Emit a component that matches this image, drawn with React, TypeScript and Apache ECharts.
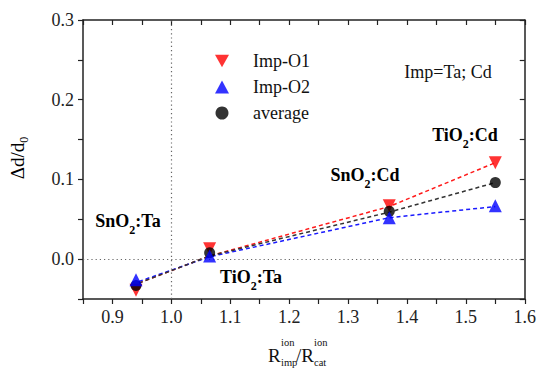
import React, { useEffect, useRef } from 'react';
import * as echarts from 'echarts';

// ---- data ----
const xValues = [0.94, 1.065, 1.37, 1.55];
const impO1 = [-0.039, 0.013, 0.067, 0.121];
const impO2 = [-0.026, 0.004, 0.052, 0.067];
const average = [-0.033, 0.008, 0.06, 0.096];

// dashed guide lines
const lineX = [0.945, 1.065, 1.37, 1.55];
const lineO1 = [-0.03, 0.004, 0.066, 0.121];
const lineO2 = [-0.028, 0.003, 0.052, 0.066];
const lineAvg = [-0.03, 0.004, 0.059, 0.096];

const refX = [1.0];
const refY = [0.0];

const xMin = 0.85;
const xMax = 1.6;
const yMin = -0.05;
const yMax = 0.3;
const tickStep = 0.05;

const SERIF = 'Liberation Serif';

const pairs = (xs: number[], ys: number[]) => xs.map((x, i) => [x, ys[i]]);

const labelFmt = (v: number) => {
  const k = Math.round(v * 100);
  return Math.abs(k) % 10 === 0 ? (k / 100).toFixed(1) : '';
};

export default function App() {
  const ref = useRef<HTMLDivElement>(null);
  useEffect(() => {
    if (!ref.current) return;
    const chart = echarts.init(ref.current, null, { renderer: 'svg' });
    const axisLine = { show: true, onZero: false, lineStyle: { color: '#222', width: 1.5 } };
    const boldRich = {
      b: { fontSize: 18, fontWeight: 'bold', fontFamily: SERIF, color: '#111' },
      s: { fontSize: 12, fontWeight: 'bold', fontFamily: SERIF, color: '#111', padding: [17, 0, 0, 0] },
    };
    const boldLabel = (x: number, y: number, txt: string) => ({
      type: 'text',
      x,
      y,
      style: {
        text: txt,
        rich: boldRich,
        align: 'center',
        verticalAlign: 'middle',
      },
    });
    const plain = (x: number, y: number, txt: string, size: number) => ({
      type: 'text',
      x,
      y,
      style: {
        text: txt,
        fontSize: size,
        fontFamily: SERIF,
        fill: '#111',
        align: 'left',
        verticalAlign: 'middle',
      },
    });
    const dashed = (color: string) => ({ color, width: 1.5, type: [4, 3] as number[] });
    chart.setOption({
      animation: false,
      backgroundColor: '#fff',
      grid: { left: 83, right: 13, top: 20, bottom: 71, containLabel: false },
      legend: {
        data: [
          { name: 'Imp-O1', icon: 'path://M0,0 L10,0 L5,9 Z' },
          { name: 'Imp-O2', icon: 'triangle' },
          { name: 'average', icon: 'circle' },
        ],
        orient: 'vertical',
        left: 210,
        top: 47,
        itemWidth: 14,
        itemHeight: 13,
        itemGap: 8,
        textStyle: { fontSize: 18, fontFamily: SERIF, color: '#111', padding: [0, 0, 0, 19] },
      },
      xAxis: [
        {
          type: 'value',
          position: 'bottom',
          min: xMin,
          max: xMax,
          interval: tickStep,
          axisLine,
          axisTick: { show: true, inside: false, length: 5, lineStyle: { color: '#222', width: 1.2 } },
          axisLabel: { formatter: labelFmt, fontSize: 18, fontFamily: SERIF, color: '#222', margin: 9 },
          splitLine: { show: false },
        },
        {
          type: 'value',
          position: 'top',
          min: xMin,
          max: xMax,
          interval: tickStep,
          axisLine,
          axisTick: { show: true, inside: true, length: 5, lineStyle: { color: '#222', width: 1.2 } },
          axisLabel: { show: false },
          splitLine: { show: false },
        },
      ],
      yAxis: [
        {
          type: 'value',
          position: 'left',
          min: yMin,
          max: yMax,
          interval: tickStep,
          axisLine,
          axisTick: { show: true, inside: false, length: 5, lineStyle: { color: '#222', width: 1.2 } },
          axisLabel: { formatter: labelFmt, fontSize: 18, fontFamily: SERIF, color: '#222', margin: 9 },
          splitLine: { show: false },
        },
        {
          type: 'value',
          position: 'right',
          min: yMin,
          max: yMax,
          interval: tickStep,
          axisLine,
          axisTick: { show: true, inside: true, length: 5, lineStyle: { color: '#222', width: 1.2 } },
          axisLabel: { show: false },
          splitLine: { show: false },
        },
      ],
      series: [
        {
          name: 'ref',
          type: 'line',
          data: [],
          silent: true,
          markLine: {
            silent: true,
            symbol: 'none',
            label: { show: false },
            lineStyle: { color: '#666', width: 1.2, type: [1.2, 3] },
            data: [...refX.map((v) => ({ xAxis: v })), ...refY.map((v) => ({ yAxis: v }))],
          },
        },
        { name: 'fit-O1', type: 'line', data: pairs(lineX, lineO1), showSymbol: false, symbol: 'none', lineStyle: dashed('#ff1a1a'), z: 2 },
        { name: 'fit-O2', type: 'line', data: pairs(lineX, lineO2), showSymbol: false, symbol: 'none', lineStyle: dashed('#1a1aff'), z: 2 },
        { name: 'fit-avg', type: 'line', data: pairs(lineX, lineAvg), showSymbol: false, symbol: 'none', lineStyle: dashed('#333'), z: 2 },
        {
          name: 'Imp-O1',
          type: 'scatter',
          data: pairs(xValues, impO1),
          symbol: 'triangle',
          symbolRotate: 180,
          symbolSize: 13,
          itemStyle: { color: '#ff0000' },
          z: 3,
        },
        {
          name: 'average',
          type: 'scatter',
          data: pairs(xValues, average),
          symbol: 'circle',
          symbolSize: 11,
          itemStyle: { color: '#000' },
          z: 4,
        },
        {
          name: 'Imp-O2',
          type: 'scatter',
          data: pairs(xValues, impO2),
          symbol: 'triangle',
          symbolSize: 13,
          itemStyle: { color: '#0000ff' },
          z: 5,
        },
      ],
      graphic: [
        boldLabel(128, 221, '{b|SnO}{s|2}{b|:Ta}'),
        boldLabel(251, 277, '{b|TiO}{s|2}{b|:Ta}'),
        boldLabel(365, 175, '{b|SnO}{s|2}{b|:Cd}'),
        boldLabel(465, 135, '{b|TiO}{s|2}{b|:Cd}'),
        {
          type: 'text',
          x: 448,
          y: 72,
          style: { text: 'Imp=Ta; Cd', fontSize: 18, fontFamily: SERIF, fill: '#111', align: 'center', verticalAlign: 'middle' },
        },
        {
          type: 'text',
          x: 17,
          y: 158,
          rotation: Math.PI / 2,
          style: {
            text: '{m|Δd/d}{s|0}',
            rich: {
              m: { fontSize: 19, fontFamily: SERIF, color: '#111' },
              s: { fontSize: 12, fontFamily: SERIF, color: '#111', padding: [14, 0, 0, 0] },
            },
            align: 'center',
            verticalAlign: 'middle',
          },
        },
        plain(268, 355, 'R', 19),
        plain(281, 342, 'ion', 10.5),
        plain(281, 362, 'imp', 10.5),
        plain(296, 355, '/R', 19),
        plain(314, 342, 'ion', 10.5),
        plain(314, 362, 'cat', 10.5),
      ],
    });
    return () => chart.dispose();
  }, []);
  return (
    <div
      ref={ref}
      style={{ position: 'fixed', left: 0, top: 0, width: 539, height: 370, background: '#fff' }}
    />
  );
}
